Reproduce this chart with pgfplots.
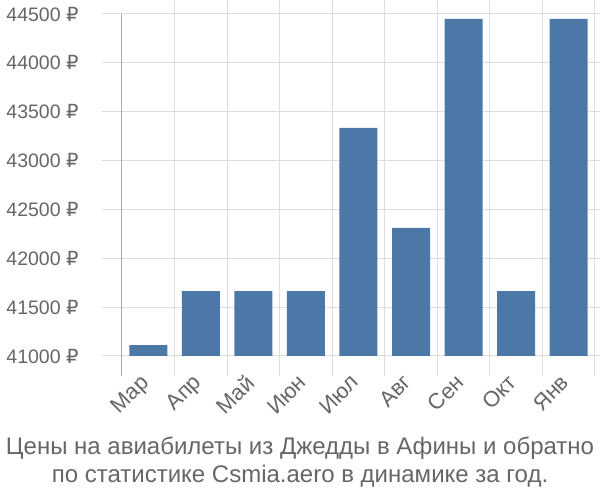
\documentclass[border=0pt]{standalone}
\usepackage{pgfplots}
\pgfplotsset{compat=1.18}
\usepackage{fontspec}
\setmainfont{Liberation Sans}
\newfontfamily\rub{DejaVu Sans}
\definecolor{barc}{HTML}{4C78A8}
\definecolor{gridc}{HTML}{DDDDDD}
\definecolor{txt}{HTML}{666666}
\begin{document}
\begin{tikzpicture}[x=1pt,y=1pt]
\useasboundingbox (-122,-144) rectangle (478,356);
\begin{axis}[at={(0,0)}, anchor=south west, scale only axis,
  width=473pt, height=342pt,
  xmin=-0.5, xmax=8.5, ymin=41000, ymax=44500,
  scaled y ticks=false,
  axis line style={draw=none},
  ytick={41000,41500,...,44500},
  yticklabels={41000 {\rub ₽},41500 {\rub ₽},42000 {\rub ₽},42500 {\rub ₽},43000 {\rub ₽},43500 {\rub ₽},44000 {\rub ₽},44500 {\rub ₽}},
  xtick={0,...,8},
  xticklabels={Мар,Апр,Май,Июн,Июл,Авг,Сен,Окт,Янв},
  minor xtick={0.5,1.5,...,8.5},
  ymajorgrids, xminorgrids,
  major grid style={gridc, line width=1pt},
  minor grid style={gridc, line width=1pt},
  tick align=outside, major tick length=20pt, minor tick length=20pt,
  every tick/.style={gridc, line width=1pt},
  major x tick style={draw=none},
  ticklabel style={text=txt},
  yticklabel style={xshift=-20pt, font=\fontsize{19.5}{22}\selectfont},
  xticklabel style={rotate=45, anchor=north east, yshift=12pt, xshift=-1pt, font=\fontsize{22}{25}\selectfont},
]
\addplot[ybar, bar width=38pt, fill=barc, draw=none] coordinates {
  (0,41110) (1,41665) (2,41665) (3,41665) (4,43334) (5,42310) (6,44449) (7,41665) (8,44449)
};
\end{axis}
\draw[gray!65, line width=1pt] (0,-20) -- (0,342);
\node[anchor=base, text=txt, font=\fontsize{24}{28}\selectfont] at (178,-99) {Цены на авиабилеты из Джедды в Афины и обратно};
\node[anchor=base, text=txt, font=\fontsize{24}{28}\selectfont] at (178,-127) {по статистике Csmia.aero в динамике за год.};
\end{tikzpicture}
\end{document}
